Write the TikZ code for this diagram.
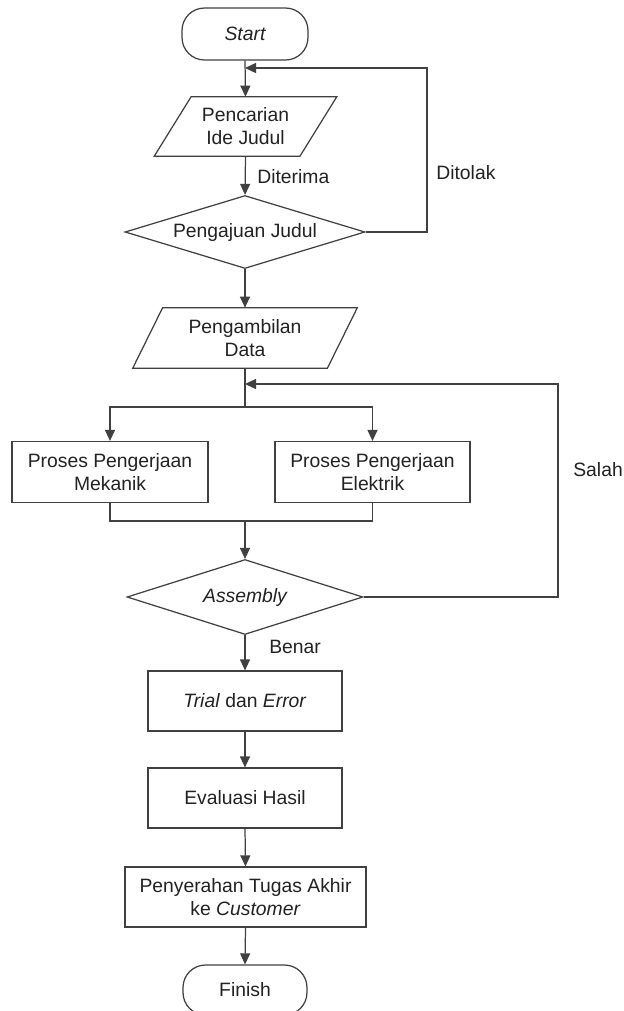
\documentclass[tikz,border=0pt]{standalone}
\usepackage{fontspec}
\setmainfont{Liberation Sans}
\usetikzlibrary{shapes.geometric,arrows.meta}
\definecolor{ln}{HTML}{404040}
\definecolor{tx}{HTML}{222222}
\tikzset{
  every node/.style={font=\fontsize{11}{13}\selectfont, text=tx, align=center, inner sep=0pt},
  line/.style={draw=ln, line width=0.7pt},
  arr/.style={line, -{Triangle[length=0.22cm,width=0.2cm]}},
  term/.style={line, rectangle, rounded corners=0.45cm},
  proc/.style={line, rectangle, minimum width=3.88cm, minimum height=1.2cm},
  dec/.style={line, diamond, minimum width=4.8cm, minimum height=1.46cm, aspect=3.2},
  io/.style={rectangle, draw=none},
  lbl/.style={anchor=west}
}
\begin{document}
\begin{tikzpicture}[x=0.02cm,y=-0.02cm]
\useasboundingbox (0,0) rectangle (624,1011);
\clip (0,0) rectangle (624,1011);
\fill[white] (0,0) rectangle (624,1011);

\node[term, minimum width=2.52cm, minimum height=1.04cm] (start) at (245,34) {\itshape Start};
\node[io, minimum width=2.9cm, minimum height=1.18cm] (ide) at (245.5,126.5) {Pencarian\\Ide Judul};
\draw[line] ([xshift=0.37cm]ide.north west) -- ([xshift=0.37cm]ide.north east) -- ([xshift=-0.37cm]ide.south east) -- ([xshift=-0.37cm]ide.south west) -- cycle;
\node[dec] (aju) at (245,232) {Pengajuan Judul};
\node[io, minimum width=3.88cm, minimum height=1.2cm] (data) at (245,338) {Pengambilan\\Data};
\draw[line] ([xshift=0.3cm]data.north west) -- ([xshift=0.3cm]data.north east) -- ([xshift=-0.3cm]data.south east) -- ([xshift=-0.3cm]data.south west) -- cycle;
\node[proc, minimum width=3.92cm, minimum height=1.22cm] (mek) at (110,472) {Proses Pengerjaan\\Mekanik};
\node[proc, minimum width=3.9cm, minimum height=1.22cm] (ele) at (372.5,472) {Proses Pengerjaan\\Elektrik};
\node[dec, minimum width=4.72cm, minimum height=1.5cm, aspect=3.15] (asm) at (245,597) {\itshape Assembly};
\node[proc] (trial) at (245,701) {\textit{Trial} dan \textit{Error}};
\node[proc] (eval) at (245,798) {Evaluasi Hasil};
\node[proc, minimum width=4.82cm] (serah) at (245.5,897) {Penyerahan Tugas Akhir\\ke \textit{Customer}};
\node[term, minimum width=2.48cm, minimum height=1.0cm] (fin) at (245,990) {Finish};

\coordinate (m1) at (245,68);
\coordinate (r1) at (427,232);
\coordinate (m2) at (245,384);
\coordinate (r2) at (558,597);
\coordinate (sp) at (245,407);
\coordinate (jn) at (245,521);

\draw[arr] (start.south) -- (ide.north);
\draw[arr] (ide.south) -- (aju.north);
\draw[arr] (aju.east) -- (r1) |- (m1);
\draw[arr] (aju.south) -- (data.north);
\draw[line] (data.south) -- (sp);
\draw[arr] (sp) -| (mek.north);
\draw[arr] (sp) -| (ele.north);
\draw[line] (mek.south) |- (jn) -| (ele.south);
\draw[arr] (jn) -- (asm.north);
\draw[arr] (asm.east) -- (r2) |- (m2);
\draw[arr] (asm.south) -- (trial.north);
\draw[arr] (trial.south) -- (eval.north);
\draw[arr] (eval.south) -- (serah.north);
\draw[arr] (serah.south) -- (fin.north);

\node[lbl] (lter) at (257,177) {Diterima};
\node[lbl] (ltol) at (436,173) {Ditolak};
\node[lbl] (lsal) at (573,470) {Salah};
\node[lbl] (lben) at (269,647) {Benar};
\end{tikzpicture}
\end{document}
